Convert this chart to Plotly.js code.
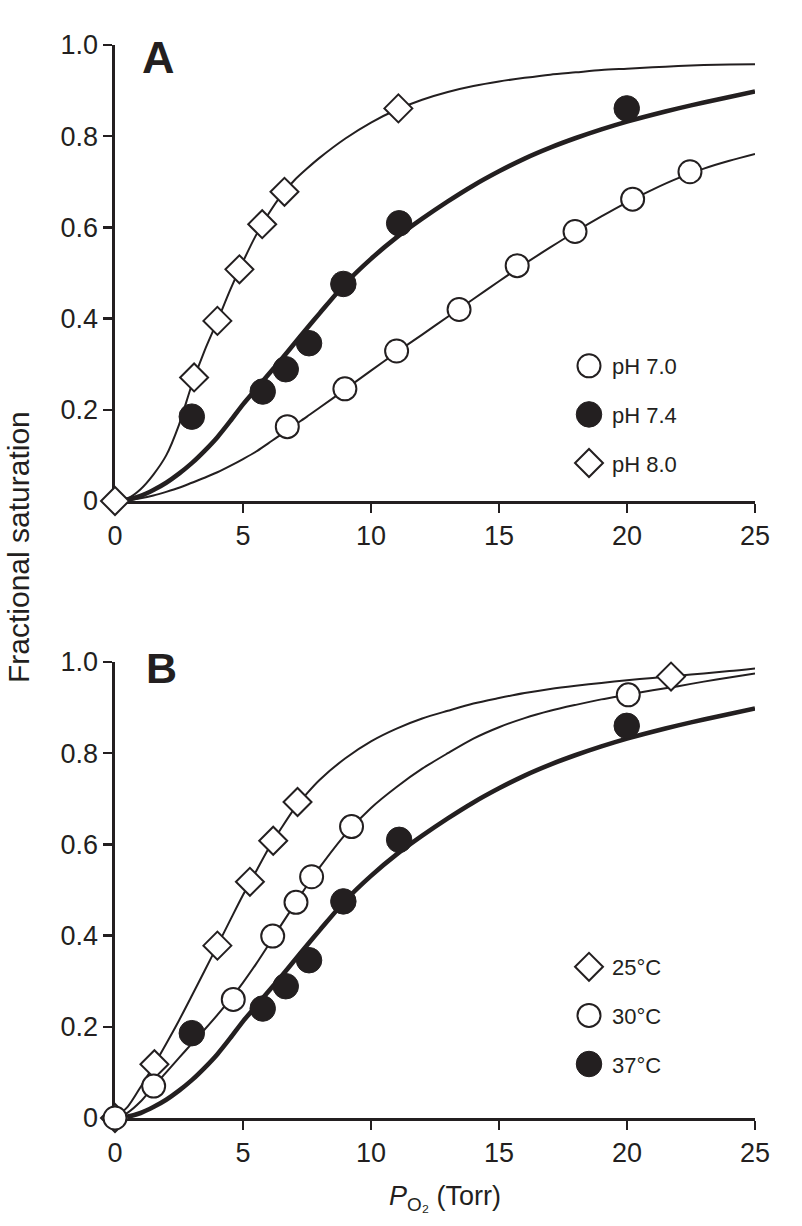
<!DOCTYPE html>
<html>
<head>
<meta charset="utf-8">
<script src="https://cdn.plot.ly/plotly-3.0.1.min.js"></script>
<style>html,body{margin:0;padding:0;background:#fff;}#chart{width:802px;height:1226px;}</style>
</head>
<body>
<div id="chart"></div>
<script>
// ---------- Tick labels ----------
const xTickVals = [0, 5, 10, 15, 20, 25];
const xTickText = ['0', '5', '10', '15', '20', '25'];
const yTickVals = [0, 0.2, 0.4, 0.6, 0.8, 1.0];
const yTickText = ['0', '0.2', '0.4', '0.6', '0.8', '1.0'];

// ---------- Panel A: measured points ----------
const pH70_x = [6.73, 8.98, 11.0, 13.44, 15.71, 17.97, 20.22, 22.46];
const pH70_y = [0.163, 0.246, 0.329, 0.420, 0.516, 0.591, 0.662, 0.722];
const pH74_x = [3.0, 5.77, 6.67, 7.58, 8.92, 11.1, 19.99];
const pH74_y = [0.185, 0.240, 0.289, 0.346, 0.476, 0.609, 0.861];
const pH80_x = [0, 3.09, 4.0, 4.86, 5.75, 6.62, 11.07];
const pH80_y = [0, 0.271, 0.395, 0.508, 0.607, 0.678, 0.861];

// ---------- Panel B: measured points ----------
const t25_x = [0, 1.54, 4.0, 5.27, 6.18, 7.13, 21.72];
const t25_y = [0, 0.118, 0.378, 0.518, 0.608, 0.693, 0.968];
const t30_x = [0, 1.51, 4.62, 6.16, 7.07, 7.68, 9.24, 20.05];
const t30_y = [0, 0.070, 0.260, 0.399, 0.473, 0.529, 0.639, 0.928];
const t37_x = [3.0, 5.77, 6.67, 7.58, 8.92, 11.1, 19.99];
const t37_y = [0.186, 0.240, 0.289, 0.346, 0.475, 0.610, 0.860];

// ---------- Fitted curves ----------
const curveX = [0, 0.5, 1, 1.5, 2, 2.5, 3, 3.5, 4, 4.5, 5, 5.5, 6, 6.5, 7, 7.5, 8, 9, 10, 11, 12, 13, 14, 15, 16, 17, 18, 19, 20, 21, 22, 23, 24, 25];
const fitPH70 = [0, 0.002, 0.006, 0.012, 0.020, 0.029, 0.040, 0.051, 0.063, 0.077, 0.092, 0.108, 0.127, 0.146, 0.166, 0.185, 0.205, 0.245, 0.286, 0.326, 0.365, 0.404, 0.443, 0.482, 0.520, 0.556, 0.591, 0.624, 0.655, 0.683, 0.708, 0.729, 0.746, 0.761];
const fitPH74 = [0, 0.003, 0.011, 0.024, 0.040, 0.060, 0.083, 0.110, 0.140, 0.175, 0.212, 0.245, 0.278, 0.311, 0.345, 0.379, 0.412, 0.477, 0.531, 0.578, 0.619, 0.657, 0.692, 0.723, 0.751, 0.775, 0.796, 0.815, 0.832, 0.847, 0.861, 0.874, 0.886, 0.898];
const fitPH80 = [0, 0.006, 0.026, 0.058, 0.100, 0.167, 0.255, 0.330, 0.395, 0.463, 0.525, 0.582, 0.630, 0.671, 0.703, 0.729, 0.753, 0.795, 0.830, 0.858, 0.880, 0.897, 0.910, 0.920, 0.928, 0.935, 0.940, 0.945, 0.948, 0.951, 0.954, 0.956, 0.957, 0.958];
const fitT25 = [0, 0.025, 0.068, 0.114, 0.163, 0.214, 0.268, 0.323, 0.378, 0.434, 0.489, 0.540, 0.591, 0.636, 0.678, 0.712, 0.742, 0.789, 0.826, 0.854, 0.876, 0.893, 0.909, 0.921, 0.932, 0.941, 0.948, 0.954, 0.960, 0.965, 0.970, 0.975, 0.980, 0.986];
const fitT30 = [0, 0.012, 0.036, 0.069, 0.100, 0.132, 0.163, 0.194, 0.226, 0.260, 0.297, 0.337, 0.380, 0.424, 0.467, 0.510, 0.550, 0.622, 0.680, 0.726, 0.766, 0.800, 0.832, 0.857, 0.877, 0.893, 0.906, 0.918, 0.928, 0.938, 0.947, 0.957, 0.966, 0.975];
const fitT37 = fitPH74;

// ---------- Labels ----------
const legendA = ['pH 7.0', 'pH 7.4', 'pH 8.0'];
const legendB = ['25°C', '30°C', '37°C'];

const INK = '#231f20';
const FONT = 'Liberation Sans, Arial, Helvetica, sans-serif';
const THIN = 2, THICK = 4.6;
const OPEN_C = {symbol: 'circle', size: 23, color: '#fff', line: {color: INK, width: 2}};
const FILL_C = {symbol: 'circle', size: 25.5, color: INK, line: {color: INK, width: 1}};
const OPEN_D = {symbol: 'diamond', size: 21.5, color: '#fff', line: {color: INK, width: 2}};

function curve(x, y, w, xa, ya) {
  return {x: x, y: y, type: 'scatter', mode: 'lines', xaxis: xa, yaxis: ya,
    line: {color: INK, width: w, shape: 'spline', smoothing: 0.8}, showlegend: false,
    hoverinfo: 'skip', cliponaxis: false};
}
function pts(x, y, m, name, xa, ya, leg, rank) {
  return {x: x, y: y, type: 'scatter', mode: 'markers', name: name, xaxis: xa, yaxis: ya,
    marker: m, legend: leg, legendgroup: name, legendrank: rank, cliponaxis: false};
}

const data = [
  curve(curveX, fitPH70, THIN, 'x', 'y'),
  curve(curveX, fitPH80, THIN, 'x', 'y'),
  curve(curveX, fitPH74, THICK, 'x', 'y'),
  pts(pH70_x, pH70_y, OPEN_C, legendA[0], 'x', 'y', 'legend', 1),
  pts(pH74_x, pH74_y, FILL_C, legendA[1], 'x', 'y', 'legend', 2),
  pts(pH80_x, pH80_y, OPEN_D, legendA[2], 'x', 'y', 'legend', 3),

  curve(curveX, fitT25, THIN, 'x2', 'y2'),
  curve(curveX, fitT30, THIN, 'x2', 'y2'),
  curve(curveX, fitT37, THICK, 'x2', 'y2'),
  pts(t37_x, t37_y, FILL_C, legendB[2], 'x2', 'y2', 'legend2', 3),
  pts(t25_x, t25_y, OPEN_D, legendB[0], 'x2', 'y2', 'legend2', 1),
  pts(t30_x, t30_y, OPEN_C, legendB[1], 'x2', 'y2', 'legend2', 2)
];

const W = 802, H = 1226;
const px = v => v / W, py = v => 1 - v / H;

function xAxis(anchor) {
  return {domain: [px(115), px(755)], anchor: anchor, range: [0, 25], tickvals: xTickVals, ticktext: xTickText,
    showline: true, linecolor: INK, linewidth: 2.6, ticks: 'outside', ticklen: 9, tickwidth: 2.4, tickcolor: INK,
    showgrid: false, zeroline: false, tickfont: {family: FONT, size: 27, color: INK}, layer: 'below traces', fixedrange: true};
}
function yAxis(anchor, top, bottom) {
  return {domain: [py(bottom), py(top)], anchor: anchor, range: [0, 1], tickvals: yTickVals, ticktext: yTickText,
    showline: true, linecolor: INK, linewidth: 2.6, ticks: 'outside', ticklen: 9, tickwidth: 2.4, tickcolor: INK,
    showgrid: false, zeroline: false, tickfont: {family: FONT, size: 27, color: INK}, layer: 'below traces', fixedrange: true};
}
function legendAt(x, y) {
  return {x: px(x), y: py(y), xanchor: 'left', yanchor: 'top', font: {family: FONT, size: 22, color: INK},
    itemwidth: 36, traceorder: 'grouped', tracegroupgap: 17, bgcolor: 'rgba(0,0,0,0)', borderwidth: 0};
}

const layout = {
  width: W, height: H, margin: {l: 0, r: 0, t: 0, b: 0},
  paper_bgcolor: '#fff', plot_bgcolor: '#fff', font: {family: FONT, color: INK},
  showlegend: true,
  xaxis: xAxis('y'), yaxis: yAxis('x', 45, 501),
  xaxis2: xAxis('y2'), yaxis2: yAxis('x2', 662, 1118),
  legend: legendAt(566, 345),
  legend2: legendAt(566, 946),
  annotations: [
    {text: '<b>A</b>', xref: 'paper', yref: 'paper', x: px(158), y: py(58), xanchor: 'center', yanchor: 'middle',
     showarrow: false, font: {family: FONT, size: 45, color: INK}},
    {text: '<b>B</b>', xref: 'paper', yref: 'paper', x: px(161), y: py(668), xanchor: 'center', yanchor: 'middle',
     showarrow: false, font: {family: FONT, size: 43, color: INK}},
    {text: 'Fractional saturation', xref: 'paper', yref: 'paper', x: px(18), y: py(547), xanchor: 'center', yanchor: 'middle',
     textangle: -90, showarrow: false, font: {family: FONT, size: 30, color: INK}},
    {text: '<i>P</i><sub>O₂</sub> (Torr)', xref: 'paper', yref: 'paper', x: px(445), y: py(1198), xanchor: 'center', yanchor: 'middle',
     showarrow: false, font: {family: FONT, size: 27, color: INK}}
  ]
};

// Plotly caps legend symbols at 16 px; scale them to the size used in the plot.
function enlargeLegendSymbols(gd) {
  const sizeByName = {};
  gd.data.forEach(t => { if (t.name) sizeByName[t.name] = t.marker.size; });
  gd.querySelectorAll('g.traces').forEach(function (item) {
    const paths = item.querySelectorAll('.legendpoints path.scatterpts');
    if (!paths.length) return;
    let s = null;
    const d = item.__data__;
    if (d && d[0] && d[0].trace && d[0].trace.marker) s = d[0].trace.marker.size;
    if (!s) {
      const t = item.querySelector('text');
      if (t) s = sizeByName[t.textContent];
    }
    if (!s) return;
    paths.forEach(function (p) {
      if (p.getAttribute('data-scaled')) return;
      const tr = p.getAttribute('transform') || '';
      p.setAttribute('transform', tr + ' scale(' + (s / 16).toFixed(3) + ')');
      p.setAttribute('data-scaled', '1');
      p.style.vectorEffect = 'non-scaling-stroke';
    });
  });
}

Plotly.newPlot('chart', data, layout, {staticPlot: true, displayModeBar: false}).then(function (gd) {
  enlargeLegendSymbols(gd);
  setTimeout(function () { enlargeLegendSymbols(gd); }, 50);
});
</script>
</body>
</html>
